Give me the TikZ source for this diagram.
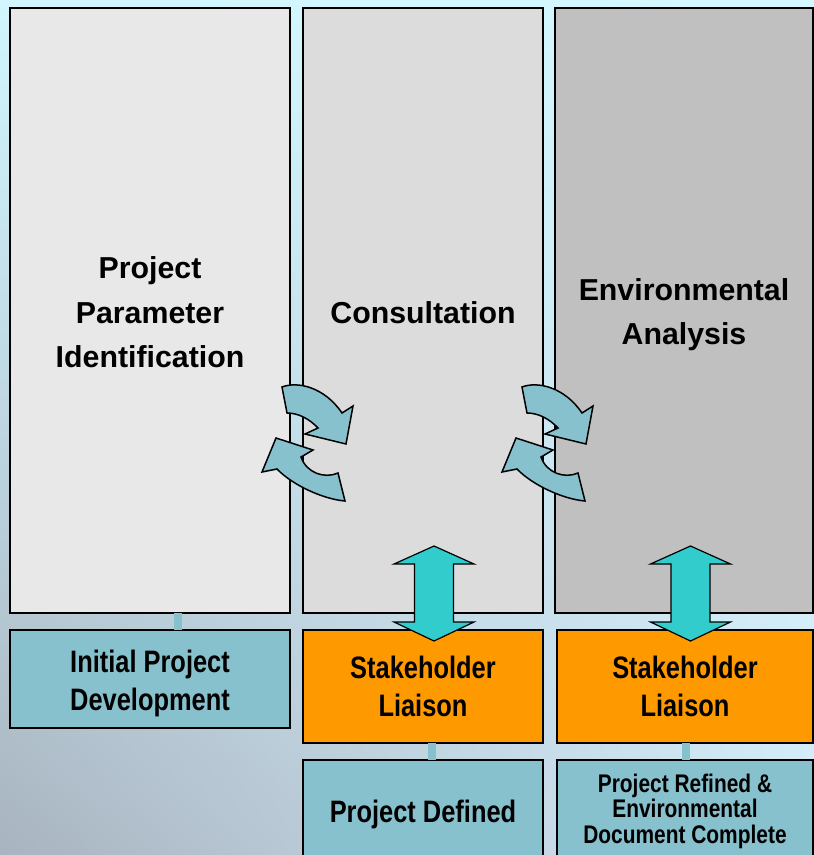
\documentclass[tikz,border=0pt]{standalone}
\usepackage{fontspec}
\usetikzlibrary{shadings}
\setmainfont{Liberation Sans}
\newfontfamily\narrowfont{Liberation Sans}[FakeStretch=0.82]
\definecolor{colA}{HTML}{E8E8E8}
\definecolor{colB}{HTML}{DCDCDC}
\definecolor{colC}{HTML}{C0C0C0}
\definecolor{tealbox}{HTML}{87C1CD}
\definecolor{orangebox}{HTML}{FF9900}
\definecolor{dblcol}{HTML}{33CCCC}
\definecolor{bgUL}{HTML}{D2F6FD}
\definecolor{bgUR}{HTML}{D4F8FF}
\definecolor{bgLL}{HTML}{A8B4C0}
\definecolor{bgLR}{HTML}{D4EAF8}
\newcommand{\upstrut}[1]{\rule{0pt}{#1}}
\tikzset{
  colbox/.style={draw=black, line width=1.5pt, outer sep=0pt, inner sep=0pt, align=center,
    font=\bfseries\fontsize{30.3}{44.5}\selectfont},
  lowbox/.style={draw=black, line width=1.5pt, outer sep=0pt, inner sep=0pt, align=center,
    font=\narrowfont\bfseries\fontsize{31}{38.5}\selectfont},
  conn/.style={draw=tealbox, line width=8pt},
  curvarrow/.style={fill=tealbox, draw=black, line width=1.5pt, line join=miter},
  dblarrow/.style={fill=dblcol, draw=black, line width=1.2pt, line join=miter},
  pics/cycle/.style={code={
    \path[curvarrow] (-30.5,-56) .. controls (-15,-62) and (12,-56) .. (29.5,-30)
      -- (40.5,-37) -- (33.5,1) -- (-7.5,-9) -- (5.5,-15)
      .. controls (-3,-24) and (-14,-30) .. (-25.5,-30) -- cycle;
    \path[curvarrow] (-35.5,26) .. controls (-20,42) and (10,56) .. (32.5,58)
      -- (25.5,30) .. controls (12,36) and (-6,30) .. (-11.5,14)
      -- (0.5,7) -- (-36.5,-5) -- (-50.5,29) -- cycle;
  }},
  pics/updown/.style={code={
    \path[dblarrow] (0,0) -- (40,18) -- (19.5,18) -- (19.5,76) -- (40,76) -- (0,95)
      -- (-40,76) -- (-19.5,76) -- (-19.5,18) -- (-40,18) -- cycle;
  }}
}
\begin{document}
\begin{tikzpicture}[x=1pt, y=-1pt]
\useasboundingbox (0,0) rectangle (814,855);
\clip (0,0) rectangle (814,855);
\shade[upper left=bgUL, upper right=bgUR, lower left=bgLL, lower right=bgLR] (0,0) rectangle (814,855);

% columns
\node[colbox, fill=colA, minimum width=280pt, minimum height=605pt] (ppi) at (150,310.5) {\upstrut{26pt}Project\\Parameter\\Identification};
\node[colbox, fill=colB, minimum width=240pt, minimum height=605pt] (cons) at (423,310.5) {\upstrut{26pt}Consultation};
\node[colbox, fill=colC, minimum width=258pt, minimum height=605pt] (env) at (684,310.5) {\upstrut{30pt}Environmental\\Analysis};

% lower boxes
\node[lowbox, fill=tealbox, minimum width=280pt, minimum height=98pt] (ipd) at (150,679) {\upstrut{31pt}Initial Project\\Development};
\node[lowbox, fill=orangebox, minimum width=240pt, minimum height=113pt] (sl1) at (423,686.5) {Stakeholder\\Liaison};
\node[lowbox, fill=orangebox, minimum width=256pt, minimum height=113pt] (sl2) at (685,686.5) {Stakeholder\\Liaison};
\node[lowbox, fill=tealbox, minimum width=240pt, minimum height=102pt] (pd) at (423,811) {\upstrut{29pt}Project Defined};
\node[lowbox, fill=tealbox, minimum width=256pt, minimum height=102pt,
  font=\narrowfont\bfseries\fontsize{25.5}{25.5}\selectfont] (pr) at (685,811) {Project Refined \&\\Environmental\\Document Complete};

% connectors
\draw[conn] ([xshift=28pt]ppi.south) -- ([xshift=28pt]ipd.north);
\draw[conn] ([xshift=9pt]sl1.south) -- ([xshift=9pt]pd.north);
\draw[conn] ([xshift=1pt]sl2.south) -- ([xshift=1pt]pr.north);

% double arrows
\coordinate (da1) at (434,546);
\coordinate (da2) at (690.5,546);
\pic at (da1) {updown};
\pic at (da2) {updown};

% cycle arrows
\coordinate (cy1) at (312.5,443);
\coordinate (cy2) at (552.5,443);
\pic at (cy1) {cycle};
\pic at (cy2) {cycle};
\end{tikzpicture}
\end{document}
